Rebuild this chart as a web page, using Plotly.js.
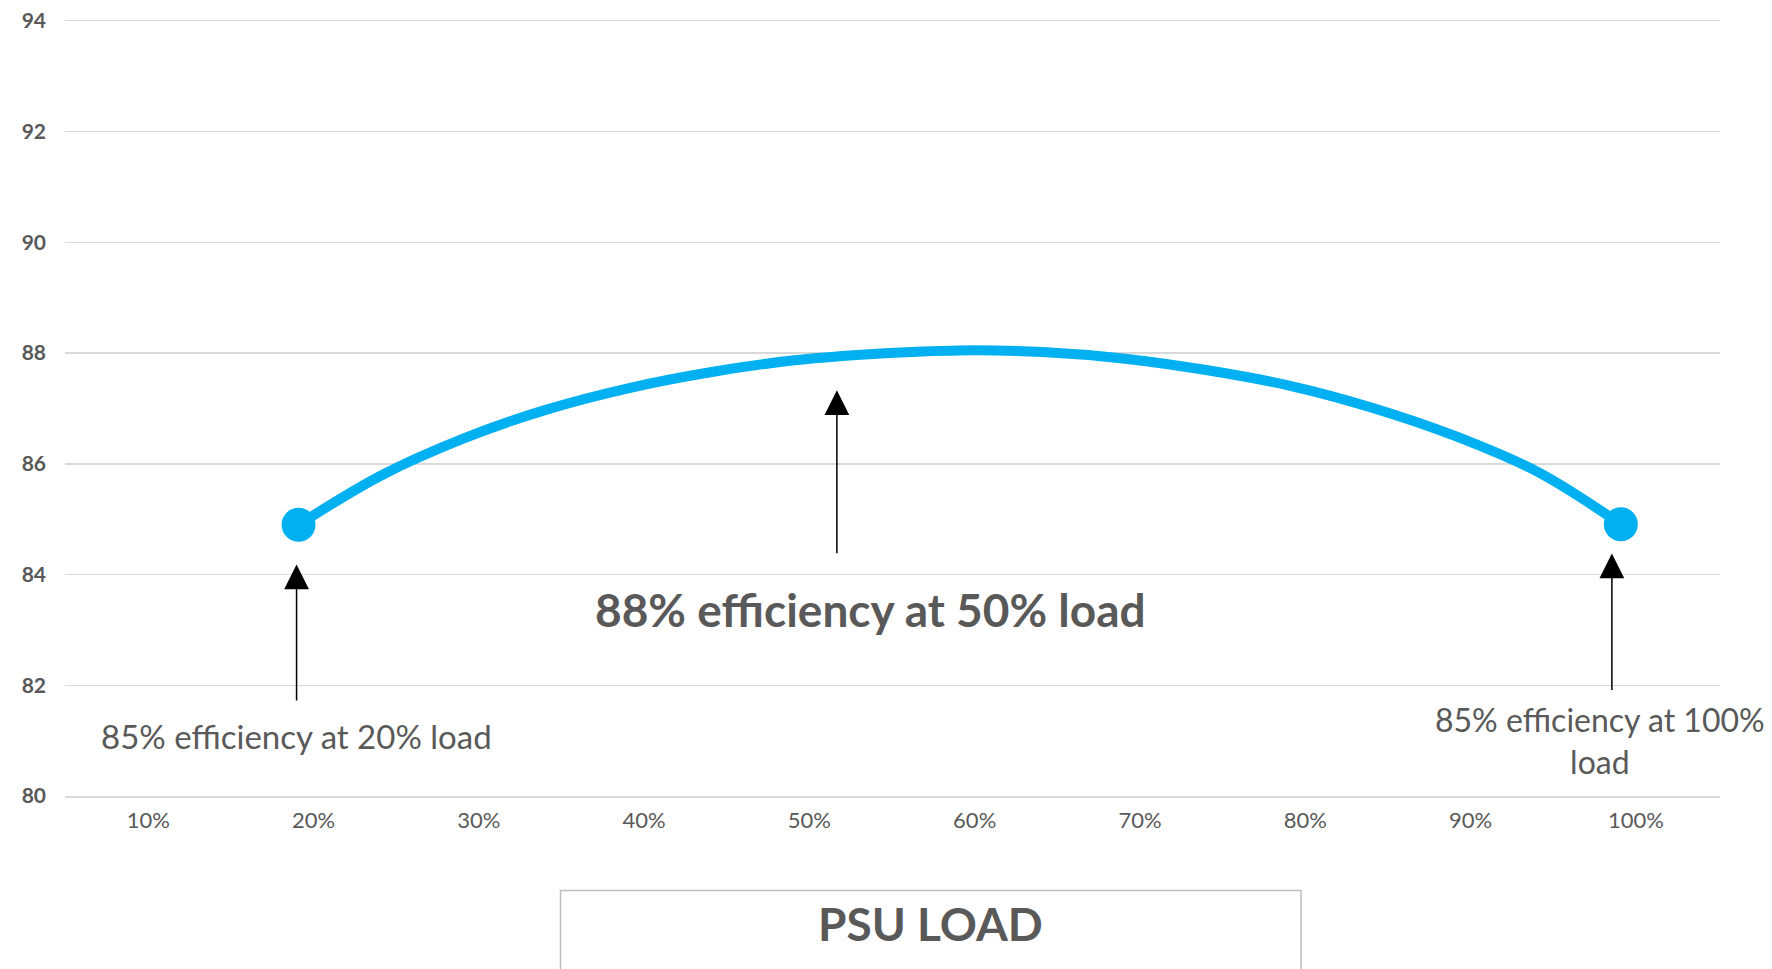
<!DOCTYPE html>
<html>
<head>
<meta charset="utf-8">
<script src="https://cdn.plot.ly/plotly-3.0.1.min.js"></script>
<style>
  html, body { margin: 0; padding: 0; background: #ffffff; }
  #chart { width: 1772px; height: 969px; }
</style>
</head>
<body>
<div id="chart"></div>
<script>
// PSU load (%) and efficiency (%)
const loadPct = [20, 25, 30, 35, 40, 45, 50, 55, 60, 65, 70, 75, 80, 85, 90, 95, 100];
const efficiency = [84.9, 85.79, 86.46, 86.98, 87.37, 87.66, 87.87, 87.99, 88.05, 88.02, 87.9, 87.69, 87.41, 87.01, 86.5, 85.85, 84.91];
// Only the end points carry a marker
const markerShown = [1, 0, 0, 0, 0, 0, 0, 0, 0, 0, 0, 0, 0, 0, 0, 0, 1];

const tickValues = [10, 20, 30, 40, 50, 60, 70, 80, 90, 100];
const tickLabels = ["10%", "20%", "30%", "40%", "50%", "60%", "70%", "80%", "90%", "100%"];

const callouts = [
  { x: 19.88, tip: 84.18, tail: 81.70 },
  { x: 52.57, tip: 87.33, tail: 84.36 },
  { x: 99.46, tip: 84.38, tail: 81.89 }
];
const calloutTexts = [
  "85% efficiency at 20% load",
  "88% efficiency at 50% load",
  "85% efficiency at 100%<br>load"
];
const axisTitle = "PSU LOAD";

const textColor = "#595959";
const fontFam = "Lato, 'Open Sans', sans-serif";

const trace = {
  x: loadPct,
  y: efficiency,
  type: "scatter",
  mode: "lines+markers",
  line: { color: "#00B0F0", width: 10, shape: "spline", smoothing: 1 },
  marker: { color: "#00B0F0", opacity: 1, size: markerShown.map(m => m ? 34 : 0), line: { width: 0 } },
  hoverinfo: "x+y",
  showlegend: false
};

// paper coordinates helpers (plot area: x 65..1720 px, y 21..796 px)
const px = v => (v - 65) / 1655;
const py = v => (796 - v) / 775;

const annotations = [];
callouts.forEach(c => {
  annotations.push({
    x: c.x, y: c.tip, xref: "x", yref: "y",
    ax: c.x, ay: c.tail, axref: "x", ayref: "y",
    text: "", showarrow: true,
    arrowhead: 2, arrowsize: 3.3, arrowwidth: 1.5, arrowcolor: "#000000"
  });
});
annotations.push({
  text: calloutTexts[0], xref: "paper", yref: "paper",
  x: px(296), y: py(736), xanchor: "center", yanchor: "middle", showarrow: false,
  font: { family: fontFam, size: 33, color: textColor }
});
annotations.push({
  text: "<b>" + calloutTexts[1] + "</b>", xref: "paper", yref: "paper",
  x: px(870), y: py(609), xanchor: "center", yanchor: "middle", showarrow: false,
  font: { family: fontFam, size: 46, color: textColor }
});
annotations.push({
  text: calloutTexts[2], xref: "paper", yref: "paper",
  x: px(1600), y: py(740), xanchor: "center", yanchor: "middle", showarrow: false,
  align: "center",
  font: { family: fontFam, size: 32, color: textColor }
});
annotations.push({
  text: "<b>" + axisTitle + "</b>", xref: "paper", yref: "paper",
  x: px(930.5), y: py(923), xanchor: "center", yanchor: "middle", showarrow: false,
  font: { family: fontFam, size: 46, color: textColor }
});

const layout = {
  width: 1772,
  height: 969,
  paper_bgcolor: "#ffffff",
  plot_bgcolor: "#ffffff",
  margin: { l: 65, r: 52, t: 21, b: 173 },
  font: { family: fontFam, color: textColor },
  xaxis: {
    range: [5.87, 106.0],
    tickvals: tickValues,
    ticktext: tickLabels,
    ticklabelshift: 15,
    ticklabelstandoff: 4,
    showgrid: false,
    zeroline: false,
    showline: true,
    mirror: true,
    linecolor: "#d9d9d9",
    linewidth: 1.5,
    ticks: "",
    tickfont: { family: fontFam, size: 22, color: textColor }
  },
  yaxis: {
    range: [80, 94],
    dtick: 2,
    showgrid: true,
    gridcolor: "#d9d9d9",
    gridwidth: 1.5,
    zeroline: false,
    showline: false,
    ticks: "",
    ticklabelstandoff: 18,
    tickfont: { family: fontFam, size: 21, color: textColor, weight: "bold" }
  },
  shapes: [{
    type: "rect", xref: "paper", yref: "paper",
    x0: px(560.5), x1: px(1301),
    y0: py(890.5), y1: py(990),
    line: { color: "#bfbfbf", width: 1.5 },
    fillcolor: "rgba(0,0,0,0)",
    layer: "below"
  }],
  annotations: annotations
};

Plotly.newPlot("chart", [trace], layout, { displayModeBar: false, staticPlot: true });
</script>
</body>
</html>
